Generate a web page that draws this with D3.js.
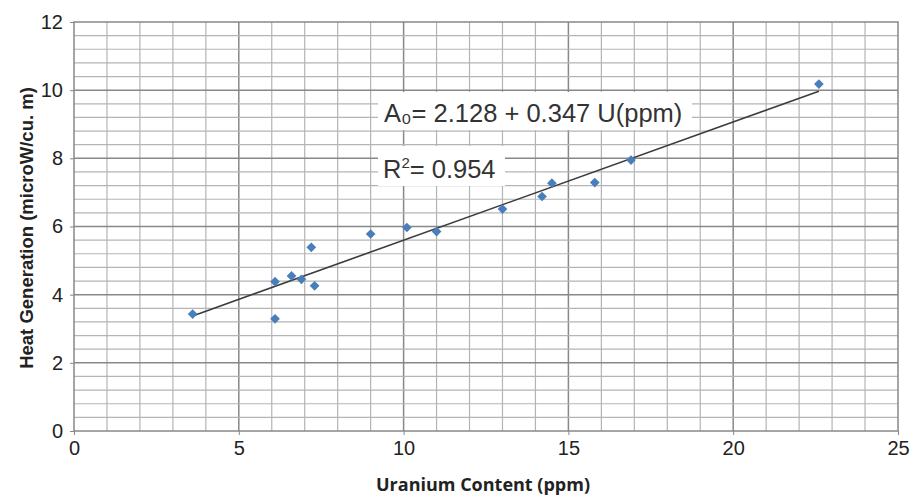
<!DOCTYPE html>
<html>
<head>
<meta charset="utf-8">
<script src="https://cdn.jsdelivr.net/npm/d3@7"></script>
<style>
  body { margin: 0; background: #fff; }
  svg { display: block; font-family: "Liberation Sans", Arial, sans-serif; }
</style>
</head>
<body>
<svg width="917" height="497"></svg>
<script>
/* ---------- data ---------- */
const uranium = [3.6, 6.1, 6.1, 6.6, 6.9, 7.2, 7.3, 9.0, 10.1, 11.0, 13.0, 14.2, 14.5, 15.8, 16.9, 22.6];
const heat    = [3.43, 3.29, 4.38, 4.55, 4.45, 5.39, 4.26, 5.78, 5.97, 5.85, 6.51, 6.88, 7.27, 7.29, 7.95, 10.18];
const xTicks = [0, 5, 10, 15, 20, 25];
const yTicks = [0, 2, 4, 6, 8, 10, 12];
const intercept = 2.128, slope = 0.347;
const eqText = "A\u2080= 2.128 + 0.347 U(ppm)";
const r2Value = "0.954";

/* ---------- layout ---------- */
const svg = d3.select("svg");
const m = { left: 74, top: 22, right: 898, bottom: 431 };

const x = d3.scaleLinear().domain([0, 25]).range([m.left, m.right]);
const y = d3.scaleLinear().domain([0, 12]).range([m.bottom, m.top]);

// grid: x every 1 (major 5), y every 0.4 (major 2)
const grid = svg.append("g");
grid.selectAll(".vx").data(d3.range(1, 25)).enter().append("line")
  .attr("x1", d => x(d)).attr("x2", d => x(d))
  .attr("y1", m.top).attr("y2", m.bottom)
  .attr("stroke", d => d % 5 === 0 ? "#888" : "#b4b4b4")
  .attr("stroke-width", d => d % 5 === 0 ? 1.5 : 1.2);
grid.selectAll(".hy").data(d3.range(1, 30).map(i => +(i * 0.4).toFixed(1))).enter().append("line")
  .attr("y1", d => y(d)).attr("y2", d => y(d))
  .attr("x1", m.left).attr("x2", m.right)
  .attr("stroke", d => Math.abs(d % 2) < 1e-6 ? "#888" : "#b4b4b4")
  .attr("stroke-width", d => Math.abs(d % 2) < 1e-6 ? 1.5 : 1.2);

// plot border
svg.append("rect")
  .attr("x", m.left).attr("y", m.top)
  .attr("width", m.right - m.left).attr("height", m.bottom - m.top)
  .attr("fill", "none").attr("stroke", "#888").attr("stroke-width", 1.5);

// axes
const xAxis = svg.append("g")
  .attr("transform", `translate(0,${m.bottom})`)
  .call(d3.axisBottom(x).tickValues(xTicks).tickSize(4).tickPadding(6));
const yAxis = svg.append("g")
  .attr("transform", `translate(${m.left},0)`)
  .call(d3.axisLeft(y).tickValues(yTicks).tickSize(4).tickPadding(7));
[xAxis, yAxis].forEach(a => {
  a.select(".domain").remove();
  a.selectAll(".tick line").attr("stroke", "#888");
  a.selectAll(".tick text").attr("fill", "#222")
    .style("font-family", "'Liberation Sans', Arial, sans-serif")
    .style("font-size", "20px");
});

// trend line
const ext = d3.extent(uranium);
svg.append("line")
  .attr("x1", x(ext[0])).attr("y1", y(intercept + slope * ext[0]))
  .attr("x2", x(ext[1])).attr("y2", y(intercept + slope * ext[1]))
  .attr("stroke", "#3c3c3c").attr("stroke-width", 1.6);

// points (diamonds)
svg.append("g").selectAll("path")
  .data(uranium.map((u, i) => [u, heat[i]]))
  .enter().append("path")
  .attr("transform", d => `translate(${x(d[0])},${y(d[1])})`)
  .attr("d", d3.symbol(d3.symbolDiamond2, 60))
  .attr("fill", "#4a7ebb");

// equation boxes
const eq = svg.append("g");
eq.append("rect").attr("x", 378).attr("y", 92).attr("width", 314).attr("height", 38).attr("fill", "#fff");
eq.append("text").attr("x", 384).attr("y", 122)
  .attr("fill", "#333").style("font-size", "25.5px").text(eqText);

eq.append("rect").attr("x", 378).attr("y", 146).attr("width", 127).attr("height", 40).attr("fill", "#fff");
const r2 = eq.append("text").attr("x", 383).attr("y", 178)
  .attr("fill", "#333").style("font-size", "25.5px");
r2.append("tspan").text("R");
r2.append("tspan").attr("dy", -10).style("font-size", "15px").text("2");
r2.append("tspan").attr("dy", 10).text("= " + r2Value);

// axis titles
svg.append("text")
  .attr("x", 483).attr("y", 491)
  .attr("text-anchor", "middle")
  .style("font-family", "'Open Sans', sans-serif")
  .style("font-weight", "bold").style("font-size", "18px")
  .attr("fill", "#222")
  .text("Uranium Content (ppm)");

svg.append("text")
  .attr("transform", "translate(33,228) rotate(-90)")
  .attr("text-anchor", "middle")
  .style("font-weight", "bold").style("font-size", "18.5px")
  .attr("fill", "#222")
  .text("Heat Generation (microW/cu. m)");
</script>
</body>
</html>
